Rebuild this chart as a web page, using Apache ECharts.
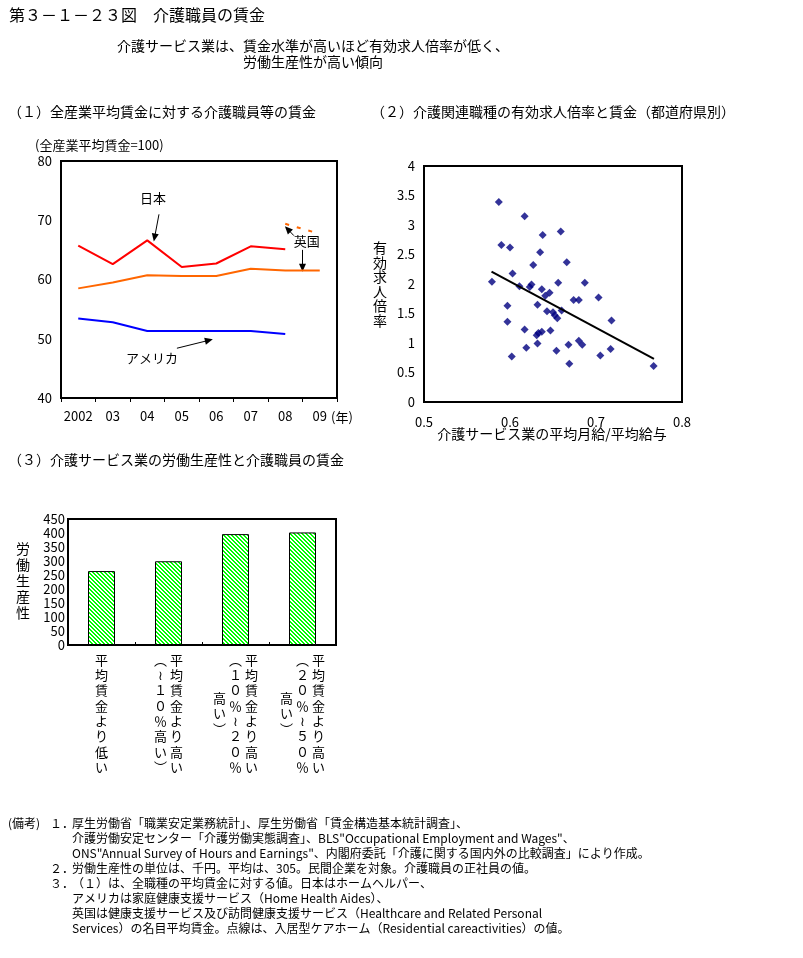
<!DOCTYPE html>
<html><head><meta charset="utf-8">
<script src="https://cdn.jsdelivr.net/npm/echarts@6/dist/echarts.min.js"></script>
<style>html,body{margin:0;padding:0;background:#fff}#c{width:803px;height:958px}</style>
</head><body><div id="c"></div>
<script>
const FONT = '"Noto Sans CJK JP", "Noto Sans", sans-serif';

// ---- (1) wages relative to all-industry average ----
const years = ['2002', '03', '04', '05', '06', '07', '08', '09'];
const japan = [65.7, 62.6, 66.6, 62.1, 62.7, 65.6, 65.1, null];
const uk = [58.5, 59.5, 60.7, 60.6, 60.6, 61.8, 61.5, 61.5];
const ukResidential = [null, null, null, null, null, null, 69.4, 67.7];
const usa = [53.4, 52.8, 51.3, 51.3, 51.3, 51.3, 50.8, null];
// annotations in data units: [category index (fractional), value]
const annoTexts = [
  { text: '日本', at: [2.17, 73.8] },
  { text: 'アメリカ', at: [2.14, 46.7] },
  { text: '英国', at: [6.62, 66.55] }
];
const annoArrows = [
  { from: [2.34, 71.0], to: [2.19, 66.4] },
  { from: [2.86, 48.4], to: [3.9, 49.9] },
  { from: [6.5, 65.0], to: [6.5, 61.3] },
  { from: [6.25, 67.4], to: [5.99, 69.0] }
];

// ---- (2) prefectures: wage ratio vs job-offer ratio ----
const prefWageRatio = [0.587,0.617,0.590,0.600,0.659,0.638,0.635,0.666,0.627,0.603,0.579,0.656,0.687,0.611,0.625,0.623,0.637,0.646,0.641,0.674,0.680,0.703,0.632,0.597,0.643,0.650,0.660,0.652,0.655,0.597,0.718,0.617,0.647,0.637,0.633,0.631,0.632,0.668,0.680,0.684,0.619,0.654,0.717,0.705,0.602,0.669,0.767];
const prefJobRatio = [3.39,3.15,2.66,2.62,2.89,2.83,2.54,2.37,2.32,2.18,2.04,2.02,2.02,1.96,1.99,1.95,1.91,1.85,1.80,1.73,1.73,1.77,1.65,1.63,1.54,1.52,1.55,1.47,1.42,1.36,1.38,1.23,1.21,1.19,1.17,1.13,0.99,0.97,1.04,0.97,0.92,0.87,0.90,0.79,0.77,0.65,0.61];
const trendX = [0.5785, 0.7674];
const trendY = [2.21, 0.73];

// ---- (3) productivity ----
const barCategories = [
  '平均賃金より低い',
  '平均賃金より高い（～１０％高い）',
  '平均賃金より高い（１０％～２０％高い）',
  '平均賃金より高い（２０％～５０％高い）'
];
const productivity = [264, 299, 396, 402];

// ---- texts ----
const mainTitle = '第３－１－２３図　介護職員の賃金';
const subTitle = ['介護サービス業は、賃金水準が高いほど有効求人倍率が低く、', '労働生産性が高い傾向'];
const panelTitles = ['（１）全産業平均賃金に対する介護職員等の賃金', '（２）介護関連職種の有効求人倍率と賃金（都道府県別）', '（３）介護サービス業の労働生産性と介護職員の賃金'];
const notesLines = [
  '厚生労働省「職業安定業務統計」、厚生労働省「賃金構造基本統計調査」、',
  '介護労働安定センター「介護労働実態調査」、BLS"Occupational Employment and Wages"、',
  'ONS"Annual Survey of Hours and Earnings"、内閣府委託「介護に関する国内外の比較調査」により作成。',
  '労働生産性の単位は、千円。平均は、305。民間企業を対象。介護職員の正社員の値。',
  '（１）は、全職種の平均賃金に対する値。日本はホームヘルパー、',
  'アメリカは家庭健康支援サービス（Home Health Aides）、',
  '英国は健康支援サービス及び訪問健康支援サービス（Healthcare and Related Personal',
  'Services）の名目平均賃金。点線は、入居型ケアホーム（Residential careactivities）の値。'
];
const notesNumbers = ['１．', '', '', '２．', '３．', '', '', ''];

function verticalLabel(s) {
  const map = { '（': '︵', '）': '︶', '～': '≀' };
  const chars = Array.from(s).map(c => map[c] || c);
  const cols = [];
  for (let i = 0; i < chars.length; i += 8) cols.push(chars.slice(i, i + 8));
  const nHalf = 16;
  const g = [];
  for (let h = 0; h < nHalf; h++) g.push(cols.map(() => '　'));
  cols.forEach((col, ci) => {
    const off = 8 - col.length;
    col.forEach((ch, k) => { g[off + 2 * k][ci] = ch; });
  });
  return g.map(row => row.slice().reverse().map(ch => '{c|' + ch + '}').join('')).join('\n');
}

function makeHatch() {
  const c = document.createElement('canvas');
  c.width = 4; c.height = 4;
  const ctx = c.getContext('2d');
  ctx.fillStyle = '#ffffff'; ctx.fillRect(0, 0, 4, 4);
  ctx.fillStyle = '#00ff00';
  for (let y = 0; y < 4; y++) for (let x = 0; x < 4; x++) {
    if ((((x - y) % 4) + 4) % 4 < 2) ctx.fillRect(x, y, 1, 1);
  }
  return c;
}

const chart = echarts.init(document.getElementById('c'), null, { renderer: 'canvas' });
const black = '#000';
const axisLbl = (extra) => Object.assign({ color: black, fontSize: 13, fontFamily: FONT }, extra);

const option = {
  animation: false,
  backgroundColor: '#fff',
  textStyle: { fontFamily: FONT, color: black },
  grid: [
    { left: 61, top: 161, width: 276, height: 237, show: true, borderColor: black, borderWidth: 2 },
    { left: 424, top: 166, width: 258, height: 236, show: true, borderColor: black, borderWidth: 2 },
    { left: 68, top: 519, width: 268, height: 126, show: true, borderColor: black, borderWidth: 2 }
  ],
  xAxis: [
    { gridIndex: 0, type: 'category', data: years, boundaryGap: true,
      axisLine: { lineStyle: { color: black, width: 2 } },
      axisTick: { show: true, inside: false, length: 4, lineStyle: { color: black } },
      axisLabel: axisLbl({ margin: 12, interval: 0 }), splitLine: { show: false } },
    { gridIndex: 1, type: 'value', min: 0.5, max: 0.8, interval: 0.1,
      axisLine: { show: true, lineStyle: { color: black, width: 2 } }, axisTick: { show: false },
      axisLabel: axisLbl({ margin: 14 }), splitLine: { show: false } },
    { gridIndex: 2, type: 'category', data: barCategories, boundaryGap: true,
      axisLine: { lineStyle: { color: black, width: 2 } },
      axisTick: { show: true, inside: true, length: 3, lineStyle: { color: black } },
      axisLabel: { interval: 0, margin: 11, formatter: verticalLabel,
        rich: { c: { width: 16, align: 'center', fontSize: 13, lineHeight: 7.65, fontFamily: FONT, color: black } } },
      splitLine: { show: false } }
  ],
  yAxis: [
    { gridIndex: 0, type: 'value', min: 40, max: 80, interval: 10,
      axisLine: { show: true, lineStyle: { color: black, width: 2 } }, axisTick: { show: false },
      axisLabel: axisLbl({ margin: 9 }), splitLine: { show: false } },
    { gridIndex: 1, type: 'value', min: 0, max: 4, interval: 0.5,
      axisLine: { show: true, lineStyle: { color: black, width: 2 } }, axisTick: { show: false },
      axisLabel: axisLbl({ margin: 9 }), splitLine: { show: false } },
    { gridIndex: 2, type: 'value', min: 0, max: 450, interval: 50,
      axisLine: { show: true, lineStyle: { color: black, width: 2 } }, axisTick: { show: false },
      axisLabel: axisLbl({ margin: 3 }), splitLine: { show: false } }
  ],
  series: [
    { name: '日本', type: 'line', xAxisIndex: 0, yAxisIndex: 0, data: japan, symbol: 'none',
      lineStyle: { color: '#ff0000', width: 2 }, itemStyle: { color: '#ff0000' } },
    { name: '英国', type: 'line', xAxisIndex: 0, yAxisIndex: 0, data: uk, symbol: 'none',
      lineStyle: { color: '#ff6600', width: 2 }, itemStyle: { color: '#ff6600' } },
    { name: '英国（入居型ケアホーム）', type: 'line', xAxisIndex: 0, yAxisIndex: 0, data: ukResidential, symbol: 'none',
      lineStyle: { color: '#ff6600', width: 2, type: [4, 8] }, itemStyle: { color: '#ff6600' } },
    { name: 'アメリカ', type: 'line', xAxisIndex: 0, yAxisIndex: 0, data: usa, symbol: 'none',
      lineStyle: { color: '#0000ff', width: 2 }, itemStyle: { color: '#0000ff' } },
    { name: '都道府県', type: 'scatter', xAxisIndex: 1, yAxisIndex: 1,
      data: prefWageRatio.map((x, i) => [x, prefJobRatio[i]]),
      symbol: 'diamond', symbolSize: 8, itemStyle: { color: '#000080' } },
    { name: '近似線', type: 'line', xAxisIndex: 1, yAxisIndex: 1,
      data: trendX.map((x, i) => [x, trendY[i]]), symbol: 'none',
      lineStyle: { color: black, width: 2 } },
    { name: '労働生産性', type: 'bar', xAxisIndex: 2, yAxisIndex: 2, data: productivity, barWidth: 27,
      itemStyle: { color: { image: makeHatch(), repeat: 'repeat' }, borderColor: black, borderWidth: 1 } }
  ]
};
chart.setOption(option);

// ---- graphics (texts, annotations) ----
function txt(text, x, y, size, opts) {
  return Object.assign({ type: 'text', x: x, y: y, silent: true,
    style: Object.assign({ text: text, fill: black, fontSize: size, fontFamily: FONT,
      align: 'left', verticalAlign: 'middle' }, (opts || {})) });
}
function px(p) {
  const i0 = Math.floor(p[0]), f = p[0] - i0;
  const a = chart.convertToPixel({ xAxisIndex: 0, yAxisIndex: 0 }, [i0, p[1]]);
  const b = chart.convertToPixel({ xAxisIndex: 0, yAxisIndex: 0 }, [i0 + 1, p[1]]);
  return [a[0] + f * (b[0] - a[0]), a[1]];
}
const gfx = [];
gfx.push(txt(mainTitle, 9, 15, 16));
gfx.push(txt(subTitle[0], 313, 46, 14, { align: 'center' }));
gfx.push(txt(subTitle[1], 313, 62, 14, { align: 'center' }));
gfx.push(txt(panelTitles[0], 8, 112, 14));
gfx.push(txt(panelTitles[1], 371, 112, 14));
gfx.push(txt(panelTitles[2], 8, 460, 14));
gfx.push(txt('(全産業平均賃金=100)', 35, 145, 13));
gfx.push(txt('(年)', 331, 417, 13));
gfx.push(txt('有効求人倍率'.split('').join('\n'), 380, 284, 14, { align: 'center', lineHeight: 14.5 }));
gfx.push(txt('介護サービス業の平均月給/平均給与', 552, 434, 14, { align: 'center' }));
gfx.push(txt('労働生産性'.split('').join('\n'), 23, 581, 14, { align: 'center', lineHeight: 16 }));
// notes
const noteY0 = 823, noteDy = 15;
gfx.push(txt('(備考)', 8, noteY0, 12));
notesNumbers.forEach((n, i) => { if (n) gfx.push(txt(n, 50, noteY0 + i * noteDy, 12)); });
notesLines.forEach((l, i) => gfx.push(txt(l, 72, noteY0 + i * noteDy, 12)));
// annotations in chart (1)
annoTexts.forEach(a => { const p = px(a.at); gfx.push(txt(a.text, p[0], p[1], 13, { align: 'center' })); });
annoArrows.forEach(a => {
  const s = px(a.from), t = px(a.to);
  const dx = t[0] - s[0], dy = t[1] - s[1];
  const len = Math.sqrt(dx * dx + dy * dy) || 1;
  const ux = dx / len, uy = dy / len;
  const L = 8, W = 3.5;
  const bx = t[0] - ux * L, by = t[1] - uy * L;
  gfx.push({ type: 'line', silent: true, shape: { x1: s[0], y1: s[1], x2: bx + ux * 2, y2: by + uy * 2 },
    style: { stroke: black, lineWidth: 1 } });
  gfx.push({ type: 'polygon', silent: true,
    shape: { points: [[t[0], t[1]], [bx - uy * W, by + ux * W], [bx + uy * W, by - ux * W]] },
    style: { fill: black } });
});
chart.setOption({ graphic: gfx });
</script>
</body></html>
